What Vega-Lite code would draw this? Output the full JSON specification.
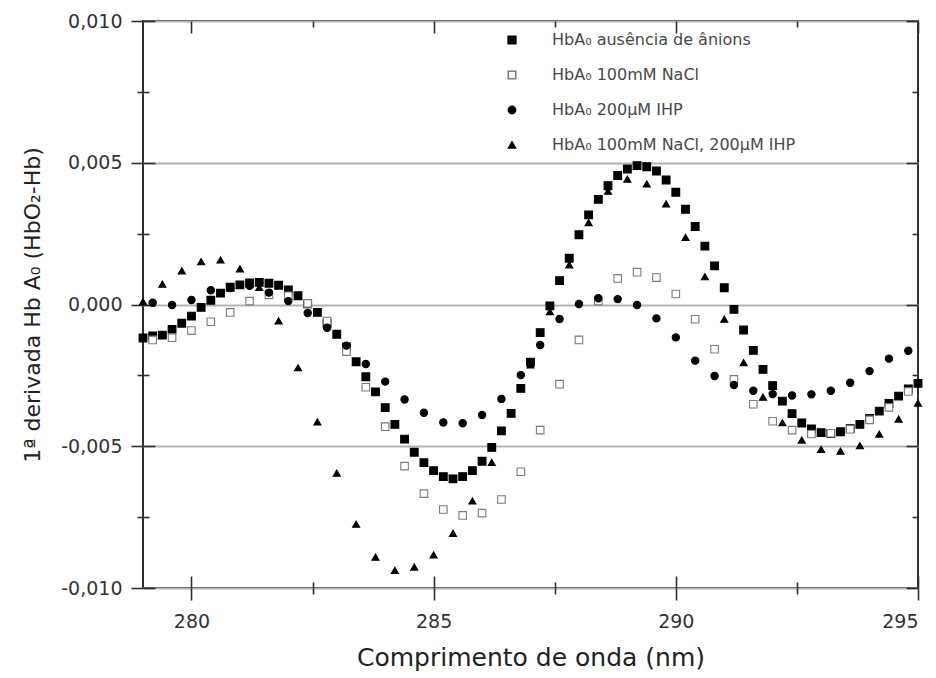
{
  "$schema": "https://vega.github.io/schema/vega-lite/v6.json",
  "width": 775,
  "height": 567,
  "autosize": {"type": "none"},
  "padding": {"left": 143, "top": 21, "right": 18, "bottom": 90},
  "background": "white",
  "config": {
    "font": "DejaVu Sans",
    "view": {"stroke": "#2e2e2e", "strokeWidth": 2},
    "axis": {"domain": false, "tickColor": "#2e2e2e", "tickWidth": 1.6}
  },
  "data": {
    "values": [
      {"amostra": "HbA₀ ausência de ânions", "comprimento": 279.0, "derivada": -0.00118},
      {"amostra": "HbA₀ ausência de ânions", "comprimento": 279.2, "derivada": -0.00111},
      {"amostra": "HbA₀ ausência de ânions", "comprimento": 279.4, "derivada": -0.00108},
      {"amostra": "HbA₀ ausência de ânions", "comprimento": 279.6, "derivada": -0.00088},
      {"amostra": "HbA₀ ausência de ânions", "comprimento": 279.8, "derivada": -0.00066},
      {"amostra": "HbA₀ ausência de ânions", "comprimento": 280.0, "derivada": -0.00041},
      {"amostra": "HbA₀ ausência de ânions", "comprimento": 280.2, "derivada": -0.00010},
      {"amostra": "HbA₀ ausência de ânions", "comprimento": 280.4, "derivada": 0.00015},
      {"amostra": "HbA₀ ausência de ânions", "comprimento": 280.6, "derivada": 0.00040},
      {"amostra": "HbA₀ ausência de ânions", "comprimento": 280.8, "derivada": 0.00061},
      {"amostra": "HbA₀ ausência de ânions", "comprimento": 281.0, "derivada": 0.00069},
      {"amostra": "HbA₀ ausência de ânions", "comprimento": 281.2, "derivada": 0.00076},
      {"amostra": "HbA₀ ausência de ânions", "comprimento": 281.4, "derivada": 0.00078},
      {"amostra": "HbA₀ ausência de ânions", "comprimento": 281.6, "derivada": 0.00075},
      {"amostra": "HbA₀ ausência de ânions", "comprimento": 281.8, "derivada": 0.00068},
      {"amostra": "HbA₀ ausência de ânions", "comprimento": 282.0, "derivada": 0.00051},
      {"amostra": "HbA₀ ausência de ânions", "comprimento": 282.2, "derivada": 0.00031},
      {"amostra": "HbA₀ ausência de ânions", "comprimento": 282.4, "derivada": 0.00002},
      {"amostra": "HbA₀ ausência de ânions", "comprimento": 282.6, "derivada": -0.00028},
      {"amostra": "HbA₀ ausência de ânions", "comprimento": 282.8, "derivada": -0.00066},
      {"amostra": "HbA₀ ausência de ânions", "comprimento": 283.0, "derivada": -0.00105},
      {"amostra": "HbA₀ ausência de ânions", "comprimento": 283.2, "derivada": -0.00150},
      {"amostra": "HbA₀ ausência de ânions", "comprimento": 283.4, "derivada": -0.00202},
      {"amostra": "HbA₀ ausência de ânions", "comprimento": 283.6, "derivada": -0.00255},
      {"amostra": "HbA₀ ausência de ânions", "comprimento": 283.8, "derivada": -0.00308},
      {"amostra": "HbA₀ ausência de ânions", "comprimento": 284.0, "derivada": -0.00364},
      {"amostra": "HbA₀ ausência de ânions", "comprimento": 284.2, "derivada": -0.00423},
      {"amostra": "HbA₀ ausência de ânions", "comprimento": 284.4, "derivada": -0.00475},
      {"amostra": "HbA₀ ausência de ânions", "comprimento": 284.6, "derivada": -0.00521},
      {"amostra": "HbA₀ ausência de ânions", "comprimento": 284.8, "derivada": -0.00558},
      {"amostra": "HbA₀ ausência de ânions", "comprimento": 285.0, "derivada": -0.00586},
      {"amostra": "HbA₀ ausência de ânions", "comprimento": 285.2, "derivada": -0.00607},
      {"amostra": "HbA₀ ausência de ânions", "comprimento": 285.4, "derivada": -0.00615},
      {"amostra": "HbA₀ ausência de ânions", "comprimento": 285.6, "derivada": -0.00607},
      {"amostra": "HbA₀ ausência de ânions", "comprimento": 285.8, "derivada": -0.00586},
      {"amostra": "HbA₀ ausência de ânions", "comprimento": 286.0, "derivada": -0.00553},
      {"amostra": "HbA₀ ausência de ânions", "comprimento": 286.2, "derivada": -0.00504},
      {"amostra": "HbA₀ ausência de ânions", "comprimento": 286.4, "derivada": -0.00446},
      {"amostra": "HbA₀ ausência de ânions", "comprimento": 286.6, "derivada": -0.00384},
      {"amostra": "HbA₀ ausência de ânions", "comprimento": 286.8, "derivada": -0.00296},
      {"amostra": "HbA₀ ausência de ânions", "comprimento": 287.0, "derivada": -0.00203},
      {"amostra": "HbA₀ ausência de ânions", "comprimento": 287.2, "derivada": -0.00099},
      {"amostra": "HbA₀ ausência de ânions", "comprimento": 287.4, "derivada": -0.00005},
      {"amostra": "HbA₀ ausência de ânions", "comprimento": 287.6, "derivada": 0.00084},
      {"amostra": "HbA₀ ausência de ânions", "comprimento": 287.8, "derivada": 0.00163},
      {"amostra": "HbA₀ ausência de ânions", "comprimento": 288.0, "derivada": 0.00246},
      {"amostra": "HbA₀ ausência de ânions", "comprimento": 288.2, "derivada": 0.00316},
      {"amostra": "HbA₀ ausência de ânions", "comprimento": 288.4, "derivada": 0.00371},
      {"amostra": "HbA₀ ausência de ânions", "comprimento": 288.6, "derivada": 0.00419},
      {"amostra": "HbA₀ ausência de ânions", "comprimento": 288.8, "derivada": 0.00455},
      {"amostra": "HbA₀ ausência de ânions", "comprimento": 289.0, "derivada": 0.00478},
      {"amostra": "HbA₀ ausência de ânions", "comprimento": 289.2, "derivada": 0.00490},
      {"amostra": "HbA₀ ausência de ânions", "comprimento": 289.4, "derivada": 0.00486},
      {"amostra": "HbA₀ ausência de ânions", "comprimento": 289.6, "derivada": 0.00471},
      {"amostra": "HbA₀ ausência de ânions", "comprimento": 289.8, "derivada": 0.00439},
      {"amostra": "HbA₀ ausência de ânions", "comprimento": 290.0, "derivada": 0.00396},
      {"amostra": "HbA₀ ausência de ânions", "comprimento": 290.2, "derivada": 0.00336},
      {"amostra": "HbA₀ ausência de ânions", "comprimento": 290.4, "derivada": 0.00275},
      {"amostra": "HbA₀ ausência de ânions", "comprimento": 290.6, "derivada": 0.00206},
      {"amostra": "HbA₀ ausência de ânions", "comprimento": 290.8, "derivada": 0.00136},
      {"amostra": "HbA₀ ausência de ânions", "comprimento": 291.0, "derivada": 0.00059},
      {"amostra": "HbA₀ ausência de ânions", "comprimento": 291.2, "derivada": -0.00017},
      {"amostra": "HbA₀ ausência de ânions", "comprimento": 291.4, "derivada": -0.00090},
      {"amostra": "HbA₀ ausência de ânions", "comprimento": 291.6, "derivada": -0.00162},
      {"amostra": "HbA₀ ausência de ânions", "comprimento": 291.8, "derivada": -0.00229},
      {"amostra": "HbA₀ ausência de ânions", "comprimento": 292.0, "derivada": -0.00286},
      {"amostra": "HbA₀ ausência de ânions", "comprimento": 292.2, "derivada": -0.00341},
      {"amostra": "HbA₀ ausência de ânions", "comprimento": 292.4, "derivada": -0.00385},
      {"amostra": "HbA₀ ausência de ânions", "comprimento": 292.6, "derivada": -0.00418},
      {"amostra": "HbA₀ ausência de ânions", "comprimento": 292.8, "derivada": -0.00439},
      {"amostra": "HbA₀ ausência de ânions", "comprimento": 293.0, "derivada": -0.00452},
      {"amostra": "HbA₀ ausência de ânions", "comprimento": 293.2, "derivada": -0.00455},
      {"amostra": "HbA₀ ausência de ânions", "comprimento": 293.4, "derivada": -0.00449},
      {"amostra": "HbA₀ ausência de ânions", "comprimento": 293.6, "derivada": -0.00438},
      {"amostra": "HbA₀ ausência de ânions", "comprimento": 293.8, "derivada": -0.00423},
      {"amostra": "HbA₀ ausência de ânions", "comprimento": 294.0, "derivada": -0.00402},
      {"amostra": "HbA₀ ausência de ânions", "comprimento": 294.2, "derivada": -0.00376},
      {"amostra": "HbA₀ ausência de ânions", "comprimento": 294.4, "derivada": -0.00349},
      {"amostra": "HbA₀ ausência de ânions", "comprimento": 294.6, "derivada": -0.00323},
      {"amostra": "HbA₀ ausência de ânions", "comprimento": 294.8, "derivada": -0.00298},
      {"amostra": "HbA₀ ausência de ânions", "comprimento": 295.0, "derivada": -0.00278},

      {"amostra": "HbA₀ 100mM NaCl", "comprimento": 279.2, "derivada": -0.00125},
      {"amostra": "HbA₀ 100mM NaCl", "comprimento": 279.6, "derivada": -0.00117},
      {"amostra": "HbA₀ 100mM NaCl", "comprimento": 280.0, "derivada": -0.00092},
      {"amostra": "HbA₀ 100mM NaCl", "comprimento": 280.4, "derivada": -0.00061},
      {"amostra": "HbA₀ 100mM NaCl", "comprimento": 280.8, "derivada": -0.00028},
      {"amostra": "HbA₀ 100mM NaCl", "comprimento": 281.2, "derivada": 0.00012},
      {"amostra": "HbA₀ 100mM NaCl", "comprimento": 281.6, "derivada": 0.00034},
      {"amostra": "HbA₀ 100mM NaCl", "comprimento": 282.0, "derivada": 0.00031},
      {"amostra": "HbA₀ 100mM NaCl", "comprimento": 282.4, "derivada": 0.00004},
      {"amostra": "HbA₀ 100mM NaCl", "comprimento": 282.8, "derivada": -0.00058},
      {"amostra": "HbA₀ 100mM NaCl", "comprimento": 283.2, "derivada": -0.00166},
      {"amostra": "HbA₀ 100mM NaCl", "comprimento": 283.6, "derivada": -0.00292},
      {"amostra": "HbA₀ 100mM NaCl", "comprimento": 284.0, "derivada": -0.00431},
      {"amostra": "HbA₀ 100mM NaCl", "comprimento": 284.4, "derivada": -0.00570},
      {"amostra": "HbA₀ 100mM NaCl", "comprimento": 284.8, "derivada": -0.00667},
      {"amostra": "HbA₀ 100mM NaCl", "comprimento": 285.2, "derivada": -0.00723},
      {"amostra": "HbA₀ 100mM NaCl", "comprimento": 285.6, "derivada": -0.00744},
      {"amostra": "HbA₀ 100mM NaCl", "comprimento": 286.0, "derivada": -0.00736},
      {"amostra": "HbA₀ 100mM NaCl", "comprimento": 286.4, "derivada": -0.00688},
      {"amostra": "HbA₀ 100mM NaCl", "comprimento": 286.8, "derivada": -0.00590},
      {"amostra": "HbA₀ 100mM NaCl", "comprimento": 287.2, "derivada": -0.00443},
      {"amostra": "HbA₀ 100mM NaCl", "comprimento": 287.6, "derivada": -0.00281},
      {"amostra": "HbA₀ 100mM NaCl", "comprimento": 288.0, "derivada": -0.00125},
      {"amostra": "HbA₀ 100mM NaCl", "comprimento": 288.4, "derivada": 0.00012},
      {"amostra": "HbA₀ 100mM NaCl", "comprimento": 288.8, "derivada": 0.00092},
      {"amostra": "HbA₀ 100mM NaCl", "comprimento": 289.2, "derivada": 0.00114},
      {"amostra": "HbA₀ 100mM NaCl", "comprimento": 289.6, "derivada": 0.00095},
      {"amostra": "HbA₀ 100mM NaCl", "comprimento": 290.0, "derivada": 0.00037},
      {"amostra": "HbA₀ 100mM NaCl", "comprimento": 290.4, "derivada": -0.00052},
      {"amostra": "HbA₀ 100mM NaCl", "comprimento": 290.8, "derivada": -0.00158},
      {"amostra": "HbA₀ 100mM NaCl", "comprimento": 291.2, "derivada": -0.00264},
      {"amostra": "HbA₀ 100mM NaCl", "comprimento": 291.6, "derivada": -0.00352},
      {"amostra": "HbA₀ 100mM NaCl", "comprimento": 292.0, "derivada": -0.00412},
      {"amostra": "HbA₀ 100mM NaCl", "comprimento": 292.4, "derivada": -0.00443},
      {"amostra": "HbA₀ 100mM NaCl", "comprimento": 292.8, "derivada": -0.00457},
      {"amostra": "HbA₀ 100mM NaCl", "comprimento": 293.2, "derivada": -0.00454},
      {"amostra": "HbA₀ 100mM NaCl", "comprimento": 293.6, "derivada": -0.00440},
      {"amostra": "HbA₀ 100mM NaCl", "comprimento": 294.0, "derivada": -0.00407},
      {"amostra": "HbA₀ 100mM NaCl", "comprimento": 294.4, "derivada": -0.00363},
      {"amostra": "HbA₀ 100mM NaCl", "comprimento": 294.8, "derivada": -0.00307},

      {"amostra": "HbA₀ 200µM IHP", "comprimento": 279.2, "derivada": 0.00006},
      {"amostra": "HbA₀ 200µM IHP", "comprimento": 279.6, "derivada": -0.00002},
      {"amostra": "HbA₀ 200µM IHP", "comprimento": 280.0, "derivada": 0.00016},
      {"amostra": "HbA₀ 200µM IHP", "comprimento": 280.4, "derivada": 0.00050},
      {"amostra": "HbA₀ 200µM IHP", "comprimento": 280.8, "derivada": 0.00058},
      {"amostra": "HbA₀ 200µM IHP", "comprimento": 281.2, "derivada": 0.00066},
      {"amostra": "HbA₀ 200µM IHP", "comprimento": 281.6, "derivada": 0.00042},
      {"amostra": "HbA₀ 200µM IHP", "comprimento": 282.0, "derivada": 0.00012},
      {"amostra": "HbA₀ 200µM IHP", "comprimento": 282.4, "derivada": -0.00030},
      {"amostra": "HbA₀ 200µM IHP", "comprimento": 282.8, "derivada": -0.00082},
      {"amostra": "HbA₀ 200µM IHP", "comprimento": 283.2, "derivada": -0.00145},
      {"amostra": "HbA₀ 200µM IHP", "comprimento": 283.6, "derivada": -0.00210},
      {"amostra": "HbA₀ 200µM IHP", "comprimento": 284.0, "derivada": -0.00272},
      {"amostra": "HbA₀ 200µM IHP", "comprimento": 284.4, "derivada": -0.00335},
      {"amostra": "HbA₀ 200µM IHP", "comprimento": 284.8, "derivada": -0.00382},
      {"amostra": "HbA₀ 200µM IHP", "comprimento": 285.2, "derivada": -0.00416},
      {"amostra": "HbA₀ 200µM IHP", "comprimento": 285.6, "derivada": -0.00419},
      {"amostra": "HbA₀ 200µM IHP", "comprimento": 286.0, "derivada": -0.00390},
      {"amostra": "HbA₀ 200µM IHP", "comprimento": 286.4, "derivada": -0.00333},
      {"amostra": "HbA₀ 200µM IHP", "comprimento": 286.8, "derivada": -0.00249},
      {"amostra": "HbA₀ 200µM IHP", "comprimento": 287.2, "derivada": -0.00143},
      {"amostra": "HbA₀ 200µM IHP", "comprimento": 287.6, "derivada": -0.00051},
      {"amostra": "HbA₀ 200µM IHP", "comprimento": 288.0, "derivada": 0.00002},
      {"amostra": "HbA₀ 200µM IHP", "comprimento": 288.4, "derivada": 0.00022},
      {"amostra": "HbA₀ 200µM IHP", "comprimento": 288.8, "derivada": 0.00019},
      {"amostra": "HbA₀ 200µM IHP", "comprimento": 289.2, "derivada": -0.00002},
      {"amostra": "HbA₀ 200µM IHP", "comprimento": 289.6, "derivada": -0.00049},
      {"amostra": "HbA₀ 200µM IHP", "comprimento": 290.0, "derivada": -0.00116},
      {"amostra": "HbA₀ 200µM IHP", "comprimento": 290.4, "derivada": -0.00198},
      {"amostra": "HbA₀ 200µM IHP", "comprimento": 290.8, "derivada": -0.00252},
      {"amostra": "HbA₀ 200µM IHP", "comprimento": 291.2, "derivada": -0.00284},
      {"amostra": "HbA₀ 200µM IHP", "comprimento": 291.6, "derivada": -0.00304},
      {"amostra": "HbA₀ 200µM IHP", "comprimento": 292.0, "derivada": -0.00316},
      {"amostra": "HbA₀ 200µM IHP", "comprimento": 292.4, "derivada": -0.00321},
      {"amostra": "HbA₀ 200µM IHP", "comprimento": 292.8, "derivada": -0.00317},
      {"amostra": "HbA₀ 200µM IHP", "comprimento": 293.2, "derivada": -0.00304},
      {"amostra": "HbA₀ 200µM IHP", "comprimento": 293.6, "derivada": -0.00276},
      {"amostra": "HbA₀ 200µM IHP", "comprimento": 294.0, "derivada": -0.00235},
      {"amostra": "HbA₀ 200µM IHP", "comprimento": 294.4, "derivada": -0.00191},
      {"amostra": "HbA₀ 200µM IHP", "comprimento": 294.8, "derivada": -0.00163},

      {"amostra": "HbA₀ 100mM NaCl, 200µM IHP", "comprimento": 279.0, "derivada": 0.00010},
      {"amostra": "HbA₀ 100mM NaCl, 200µM IHP", "comprimento": 279.4, "derivada": 0.00072},
      {"amostra": "HbA₀ 100mM NaCl, 200µM IHP", "comprimento": 279.8, "derivada": 0.00119},
      {"amostra": "HbA₀ 100mM NaCl, 200µM IHP", "comprimento": 280.2, "derivada": 0.00151},
      {"amostra": "HbA₀ 100mM NaCl, 200µM IHP", "comprimento": 280.6, "derivada": 0.00157},
      {"amostra": "HbA₀ 100mM NaCl, 200µM IHP", "comprimento": 281.0, "derivada": 0.00126},
      {"amostra": "HbA₀ 100mM NaCl, 200µM IHP", "comprimento": 281.4, "derivada": 0.00060},
      {"amostra": "HbA₀ 100mM NaCl, 200µM IHP", "comprimento": 281.8, "derivada": -0.00058},
      {"amostra": "HbA₀ 100mM NaCl, 200µM IHP", "comprimento": 282.2, "derivada": -0.00223},
      {"amostra": "HbA₀ 100mM NaCl, 200µM IHP", "comprimento": 282.6, "derivada": -0.00414},
      {"amostra": "HbA₀ 100mM NaCl, 200µM IHP", "comprimento": 283.0, "derivada": -0.00595},
      {"amostra": "HbA₀ 100mM NaCl, 200µM IHP", "comprimento": 283.4, "derivada": -0.00775},
      {"amostra": "HbA₀ 100mM NaCl, 200µM IHP", "comprimento": 283.8, "derivada": -0.00891},
      {"amostra": "HbA₀ 100mM NaCl, 200µM IHP", "comprimento": 284.2, "derivada": -0.00938},
      {"amostra": "HbA₀ 100mM NaCl, 200µM IHP", "comprimento": 284.6, "derivada": -0.00926},
      {"amostra": "HbA₀ 100mM NaCl, 200µM IHP", "comprimento": 285.0, "derivada": -0.00883},
      {"amostra": "HbA₀ 100mM NaCl, 200µM IHP", "comprimento": 285.4, "derivada": -0.00807},
      {"amostra": "HbA₀ 100mM NaCl, 200µM IHP", "comprimento": 285.8, "derivada": -0.00693},
      {"amostra": "HbA₀ 100mM NaCl, 200µM IHP", "comprimento": 286.2, "derivada": -0.00557},
      {"amostra": "HbA₀ 100mM NaCl, 200µM IHP", "comprimento": 286.6, "derivada": -0.00384},
      {"amostra": "HbA₀ 100mM NaCl, 200µM IHP", "comprimento": 287.0, "derivada": -0.00213},
      {"amostra": "HbA₀ 100mM NaCl, 200µM IHP", "comprimento": 287.4, "derivada": -0.00025},
      {"amostra": "HbA₀ 100mM NaCl, 200µM IHP", "comprimento": 287.8, "derivada": 0.00140},
      {"amostra": "HbA₀ 100mM NaCl, 200µM IHP", "comprimento": 288.2, "derivada": 0.00289},
      {"amostra": "HbA₀ 100mM NaCl, 200µM IHP", "comprimento": 288.6, "derivada": 0.00400},
      {"amostra": "HbA₀ 100mM NaCl, 200µM IHP", "comprimento": 289.0, "derivada": 0.00442},
      {"amostra": "HbA₀ 100mM NaCl, 200µM IHP", "comprimento": 289.4, "derivada": 0.00425},
      {"amostra": "HbA₀ 100mM NaCl, 200µM IHP", "comprimento": 289.8, "derivada": 0.00355},
      {"amostra": "HbA₀ 100mM NaCl, 200µM IHP", "comprimento": 290.2, "derivada": 0.00237},
      {"amostra": "HbA₀ 100mM NaCl, 200µM IHP", "comprimento": 290.6, "derivada": 0.00098},
      {"amostra": "HbA₀ 100mM NaCl, 200µM IHP", "comprimento": 291.0, "derivada": -0.00052},
      {"amostra": "HbA₀ 100mM NaCl, 200µM IHP", "comprimento": 291.4, "derivada": -0.00205},
      {"amostra": "HbA₀ 100mM NaCl, 200µM IHP", "comprimento": 291.8, "derivada": -0.00327},
      {"amostra": "HbA₀ 100mM NaCl, 200µM IHP", "comprimento": 292.2, "derivada": -0.00417},
      {"amostra": "HbA₀ 100mM NaCl, 200µM IHP", "comprimento": 292.6, "derivada": -0.00478},
      {"amostra": "HbA₀ 100mM NaCl, 200µM IHP", "comprimento": 293.0, "derivada": -0.00511},
      {"amostra": "HbA₀ 100mM NaCl, 200µM IHP", "comprimento": 293.4, "derivada": -0.00517},
      {"amostra": "HbA₀ 100mM NaCl, 200µM IHP", "comprimento": 293.8, "derivada": -0.00498},
      {"amostra": "HbA₀ 100mM NaCl, 200µM IHP", "comprimento": 294.2, "derivada": -0.00457},
      {"amostra": "HbA₀ 100mM NaCl, 200µM IHP", "comprimento": 294.6, "derivada": -0.00404},
      {"amostra": "HbA₀ 100mM NaCl, 200µM IHP", "comprimento": 295.0, "derivada": -0.00348}
    ]
  },
  "resolve": {"axis": {"x": "independent", "y": "independent"}},
  "layer": [
    {
      "mark": {"type": "point", "strokeWidth": 1.1, "opacity": 1},
      "encoding": {
        "x": {
          "field": "comprimento", "type": "quantitative",
          "scale": {"domain": [279, 295], "nice": false, "zero": false},
          "axis": {
            "orient": "bottom",
            "values": [280, 282.5, 285, 287.5, 290, 292.5, 295],
            "labelExpr": "datum.value % 5 == 0 ? datum.label : ''",
            "tickSize": {"condition": {"test": "datum.value % 5 != 0", "value": 6}, "value": 12},
            "labelPadding": 12,
            "labelFontSize": 19,
            "labelColor": "#333333",
            "title": "Comprimento de onda (nm)",
            "titleFontSize": 25,
            "titleFontWeight": "normal",
            "titleColor": "#222222",
            "titlePadding": 14,
            "grid": false
          }
        },
        "y": {
          "field": "derivada", "type": "quantitative",
          "scale": {"domain": [-0.01, 0.01], "nice": false, "zero": false},
          "axis": {
            "orient": "left",
            "values": [-0.01, -0.0075, -0.005, -0.0025, 0, 0.0025, 0.005, 0.0075, 0.01],
            "labelExpr": "round(datum.value * 400) % 2 != 0 ? '' : (datum.value < 0 ? '-' : '') + replace(format(abs(datum.value), '.3f'), '.', ',')",
            "tickSize": {"condition": {"test": "round(datum.value * 400) % 2 != 0", "value": 6}, "value": 12},
            "labelPadding": 9,
            "labelFontSize": 19,
            "labelColor": "#333333",
            "title": "1ª derivada Hb A₀ (HbO₂-Hb)",
            "titleFontSize": 22,
            "titleFontWeight": "normal",
            "titleColor": "#222222",
            "titlePadding": 16,
            "grid": true,
            "gridColor": "#b4b4b4",
            "gridWidth": 2,
            "gridOpacity": {"condition": {"test": "round(datum.value * 400) % 2 != 0", "value": 0}, "value": 1}
          }
        },
        "shape": {
          "field": "amostra", "type": "nominal",
          "scale": {
            "domain": ["HbA₀ ausência de ânions", "HbA₀ 100mM NaCl", "HbA₀ 200µM IHP", "HbA₀ 100mM NaCl, 200µM IHP"],
            "range": ["square", "square", "circle", "triangle-up"]
          },
          "legend": {
            "orient": "none", "legendX": 361, "legendY": 11, "title": null,
            "padding": 0, "labelFontSize": 16, "labelColor": "#484848",
            "labelOffset": 32, "rowPadding": 19, "labelLimit": 400
          }
        },
        "fill": {
          "field": "amostra", "type": "nominal",
          "scale": {
            "domain": ["HbA₀ ausência de ânions", "HbA₀ 100mM NaCl", "HbA₀ 200µM IHP", "HbA₀ 100mM NaCl, 200µM IHP"],
            "range": ["#000000", "#ffffff", "#000000", "#000000"]
          }
        },
        "stroke": {
          "field": "amostra", "type": "nominal",
          "scale": {
            "domain": ["HbA₀ ausência de ânions", "HbA₀ 100mM NaCl", "HbA₀ 200µM IHP", "HbA₀ 100mM NaCl, 200µM IHP"],
            "range": ["#000000", "#7a7a7a", "#000000", "#000000"]
          }
        },
        "size": {
          "field": "amostra", "type": "nominal",
          "scale": {
            "domain": ["HbA₀ ausência de ânions", "HbA₀ 100mM NaCl", "HbA₀ 200µM IHP", "HbA₀ 100mM NaCl, 200µM IHP"],
            "range": [60, 50, 85, 170]
          }
        }
      }
    },
    {
      "mark": {"type": "point", "opacity": 0},
      "encoding": {
        "x": {
          "field": "comprimento", "type": "quantitative",
          "axis": {
            "orient": "bottom",
            "values": [280, 282.5, 285, 287.5, 290, 292.5, 295],
            "tickSize": {"condition": {"test": "datum.value % 5 != 0", "value": -6}, "value": -12},
            "labels": false, "title": null, "grid": false
          }
        },
        "y": {
          "field": "derivada", "type": "quantitative",
          "axis": {
            "orient": "left",
            "values": [-0.01, -0.0075, -0.005, -0.0025, 0, 0.0025, 0.005, 0.0075, 0.01],
            "tickSize": {"condition": {"test": "round(datum.value * 400) % 2 != 0", "value": -6}, "value": -12},
            "labels": false, "title": null, "grid": false
          }
        }
      }
    },
    {
      "mark": {"type": "point", "opacity": 0},
      "encoding": {
        "x": {
          "field": "comprimento", "type": "quantitative",
          "axis": {
            "orient": "top",
            "values": [280, 282.5, 285, 287.5, 290, 292.5, 295],
            "tickSize": {"condition": {"test": "datum.value % 5 != 0", "value": -6}, "value": -12},
            "labels": false, "title": null, "grid": false
          }
        },
        "y": {
          "field": "derivada", "type": "quantitative",
          "axis": {
            "orient": "right",
            "values": [-0.01, -0.0075, -0.005, -0.0025, 0, 0.0025, 0.005, 0.0075, 0.01],
            "tickSize": {"condition": {"test": "round(datum.value * 400) % 2 != 0", "value": -6}, "value": -12},
            "labels": false, "title": null, "grid": false
          }
        }
      }
    }
  ]
}
